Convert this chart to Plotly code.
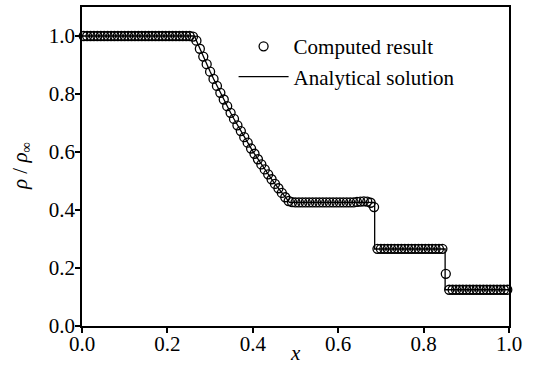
import plotly.graph_objects as go

# Cell-centre positions of the computed solution
x_cells = [
    0.004, 0.012, 0.020, 0.028, 0.036, 0.044, 0.052, 0.060, 0.068, 0.076,
    0.084, 0.092, 0.100, 0.108, 0.116, 0.124, 0.132, 0.140, 0.148, 0.156,
    0.164, 0.172, 0.180, 0.188, 0.196, 0.204, 0.212, 0.220, 0.228, 0.236,
    0.244, 0.252, 0.260, 0.268, 0.276, 0.284, 0.292, 0.300, 0.308, 0.316,
    0.324, 0.332, 0.340, 0.348, 0.356, 0.364, 0.372, 0.380, 0.388, 0.396,
    0.404, 0.412, 0.420, 0.428, 0.436, 0.444, 0.452, 0.460, 0.468, 0.476,
    0.484, 0.492, 0.500, 0.508, 0.516, 0.524, 0.532, 0.540, 0.548, 0.556,
    0.564, 0.572, 0.580, 0.588, 0.596, 0.604, 0.612, 0.620, 0.628, 0.636,
    0.644, 0.652, 0.660, 0.668, 0.676, 0.684, 0.692, 0.700, 0.708, 0.716,
    0.724, 0.732, 0.740, 0.748, 0.756, 0.764, 0.772, 0.780, 0.788, 0.796,
    0.804, 0.812, 0.820, 0.828, 0.836, 0.844, 0.852, 0.860, 0.868, 0.876,
    0.884, 0.892, 0.900, 0.908, 0.916, 0.924, 0.932, 0.940, 0.948, 0.956,
    0.964, 0.972, 0.980, 0.988, 0.996,
]

# Computed density ratio at each cell
rho_computed = [
    1.000, 1.000, 1.000, 1.000, 1.000, 1.000, 1.000, 1.000, 1.000, 1.000,
    1.000, 1.000, 1.000, 1.000, 1.000, 1.000, 1.000, 1.000, 1.000, 1.000,
    1.000, 1.000, 1.000, 1.000, 1.000, 1.000, 1.000, 1.000, 1.000, 1.000,
    1.000, 1.000, 0.998, 0.984, 0.956, 0.929, 0.903, 0.877, 0.852, 0.828,
    0.804, 0.781, 0.758, 0.735, 0.714, 0.692, 0.672, 0.651, 0.632, 0.612,
    0.594, 0.575, 0.557, 0.540, 0.523, 0.506, 0.490, 0.475, 0.459, 0.444,
    0.431, 0.427, 0.426, 0.426, 0.426, 0.426, 0.426, 0.426, 0.426, 0.426,
    0.426, 0.426, 0.426, 0.426, 0.426, 0.426, 0.426, 0.426, 0.426, 0.426,
    0.428, 0.429, 0.430, 0.429, 0.425, 0.410, 0.266, 0.266, 0.266, 0.266,
    0.266, 0.266, 0.266, 0.266, 0.266, 0.266, 0.266, 0.266, 0.266, 0.266,
    0.266, 0.266, 0.266, 0.266, 0.266, 0.266, 0.180, 0.125, 0.125, 0.125,
    0.125, 0.125, 0.125, 0.125, 0.125, 0.125, 0.125, 0.125, 0.125, 0.125,
    0.125, 0.125, 0.125, 0.125, 0.125,
]

# Analytical solution: left state, rarefaction fan, plateau, contact, shock
x_exact = [
    0.0, 0.2634,
    0.268, 0.276, 0.284, 0.292, 0.300, 0.308, 0.316, 0.324, 0.332, 0.340,
    0.348, 0.356, 0.364, 0.372, 0.380, 0.388, 0.396, 0.404, 0.412, 0.420,
    0.428, 0.436, 0.444, 0.452, 0.460, 0.468, 0.476, 0.484,
    0.4859, 0.6854, 0.6854, 0.8504, 0.8504, 1.0,
]
rho_exact = [
    1.0, 1.0,
    0.9838, 0.9562, 0.9294, 0.9031, 0.8774, 0.8524, 0.8279, 0.8040, 0.7805, 0.7577,
    0.7354, 0.7137, 0.6924, 0.6716, 0.6514, 0.6317, 0.6124, 0.5936, 0.5753, 0.5574,
    0.5400, 0.5230, 0.5064, 0.4903, 0.4745, 0.4592, 0.4443, 0.4298,
    0.4263, 0.4263, 0.2656, 0.2656, 0.125, 0.125,
]

tick_vals = [0.0, 0.2, 0.4, 0.6, 0.8, 1.0]
tick_text = ["0.0", "0.2", "0.4", "0.6", "0.8", "1.0"]

x_title = "<i>x</i>"
y_title = "<i>ρ</i> / <i>ρ</i><sub>∞</sub>"

FONT = "Liberation Serif"
TEXT = dict(family=FONT, size=21, color="black")

fig = go.Figure()

fig.add_trace(go.Scatter(
    x=x_cells, y=rho_computed,
    mode="markers",
    name="Computed result",
    cliponaxis=False,
    marker=dict(symbol="circle-open", size=9, color="black",
                line=dict(color="black", width=1.3)),
))

fig.add_trace(go.Scatter(
    x=x_exact, y=rho_exact,
    mode="lines",
    name="Analytical solution",
    line=dict(color="black", width=1.3),
))

axis_common = dict(
    showgrid=False, zeroline=False, automargin=False,
    showline=True, linecolor="black", linewidth=1.5, mirror=True,
    ticks="outside", ticklen=5, tickwidth=1.5, tickcolor="black",
    tickfont=TEXT,
    tickvals=tick_vals, ticktext=tick_text,
)

fig.update_xaxes(range=[0, 1], ticklabelstandoff=-7, **axis_common)
fig.update_yaxes(range=[0, 1.1], ticklabelstandoff=-4, **axis_common)

# Axis titles placed as paper-anchored text
fig.add_annotation(text=x_title, xref="paper", yref="paper",
                   x=0.5, y=-0.127, xanchor="center", yanchor="bottom",
                   showarrow=False, font=TEXT)
fig.add_annotation(text=y_title, xref="paper", yref="paper",
                   x=-0.144, y=0.5, xanchor="center", yanchor="middle",
                   textangle=-90, showarrow=False, font=TEXT)

fig.update_layout(
    width=538, height=367,
    margin=dict(l=82, r=29, t=7, b=41),
    plot_bgcolor="white", paper_bgcolor="white",
    font=TEXT,
    legend=dict(
        x=0.355, y=0.94, xanchor="left", yanchor="top",
        bgcolor="rgba(0,0,0,0)", borderwidth=0,
        font=TEXT,
        itemwidth=50, tracegroupgap=0,
    ),
)

fig.write_html("out.html")
